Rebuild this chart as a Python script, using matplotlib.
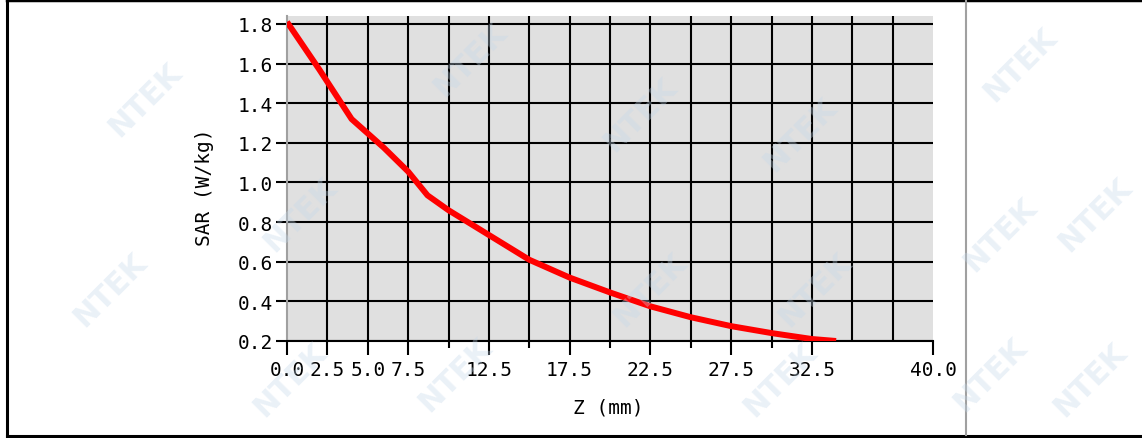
import numpy as np
import matplotlib
matplotlib.use("Agg")
import matplotlib.pyplot as plt
from matplotlib.lines import Line2D

# z-scan data
z_mm = [0, 2, 4, 6, 7.5, 8.7, 10, 12.5, 15, 17.5, 20, 22.5, 25, 27.5, 30, 32.5, 34]
sar = [1.81, 1.57, 1.32, 1.175, 1.055, 0.935, 0.86, 0.735, 0.61, 0.52, 0.445, 0.375, 0.32, 0.275, 0.24, 0.21, 0.20]

x_labeled = [0, 2.5, 5, 7.5, 12.5, 17.5, 22.5, 27.5, 32.5, 40]
x_labels = ["0.0", "2.5", "5.0", "7.5", "12.5", "17.5", "22.5", "27.5", "32.5", "40.0"]
x_short = [10, 15, 20, 25, 30]
x_grid = [2.5, 5, 7.5, 10, 12.5, 15, 17.5, 20, 22.5, 25, 27.5, 30, 32.5, 35, 37.5]
y_ticks = [0.2, 0.4, 0.6, 0.8, 1.0, 1.2, 1.4, 1.6, 1.8]

# watermark centres, pixels
wm_x = [145, 110, 470, 300, 455, 640, 800, 650, 815, 1020, 1000, 990, 1095, 1090, 290, 780]
wm_y = [100, 290, 60, 215, 375, 115, 135, 290, 290, 65, 235, 375, 215, 380, 380, 380]

W, H = 1142, 439
plt.rcParams['font.family'] = ['DejaVu Sans Mono']
fig = plt.figure(figsize=(W / 100, H / 100), dpi=100)

ax = fig.add_axes([287 / W, 1 - 342 / H, (933 - 287) / W, (342 - 17) / H])
ax.set_facecolor("#e0e0e0")
ax.set_xlim(0, 40)
ax.set_ylim(0.2, 1.84)

for xv in x_grid:
    ax.axvline(xv, color="black", lw=1.5, zorder=1)
for yv in y_ticks:
    ax.axhline(yv, color="black", lw=1.5, zorder=1)

ax.plot(z_mm, sar, color="red", lw=4.3, zorder=3, solid_capstyle="butt")

for s in ["top", "right"]:
    ax.spines[s].set_visible(False)
ax.spines["left"].set_color("#a0a0a0")
ax.spines["left"].set_linewidth(1.5)
ax.spines["bottom"].set_color("black")
ax.spines["bottom"].set_linewidth(1.5)

ax.set_xticks(x_labeled)
ax.set_xticklabels(x_labels)
ax.set_xticks(x_short, minor=True)
ax.tick_params(axis="x", which="major", length=10, width=1.5, pad=4, labelsize=14)
ax.tick_params(axis="x", which="minor", length=5, width=1.5)
ax.set_yticks(y_ticks)
ax.set_yticklabels(["%.1f" % v for v in y_ticks])
ax.tick_params(axis="y", length=8, width=1.5, pad=2, labelsize=14)

fig.text(205 / W, 1 - 187 / H, "SAR (W/kg)", rotation=90, ha="center", va="center", fontsize=14)
fig.text(608 / W, 1 - 408 / H, "Z (mm)", ha="center", va="center", fontsize=14)

# watermark
for wx, wy in zip(wm_x, wm_y):
    fig.text(wx / W, 1 - wy / H, "NTEK", rotation=45, ha="center", va="center",
             fontsize=22, fontweight="bold", color="#c4d8ea", alpha=0.35,
             family="DejaVu Sans", zorder=5)

# frame
fig.add_artist(Line2D([7 / W, 7 / W], [0.004, 0.998], color="black", lw=2.2))
fig.add_artist(Line2D([7 / W, 1], [0.998, 0.998], color="black", lw=2.5))
fig.add_artist(Line2D([7 / W, 1], [0.004, 0.004], color="black", lw=2.2))
fig.add_artist(Line2D([966 / W, 966 / W], [0.006, 0.996], color="#a0a0a0", lw=1.5))

fig.savefig("out.png", dpi=100)
